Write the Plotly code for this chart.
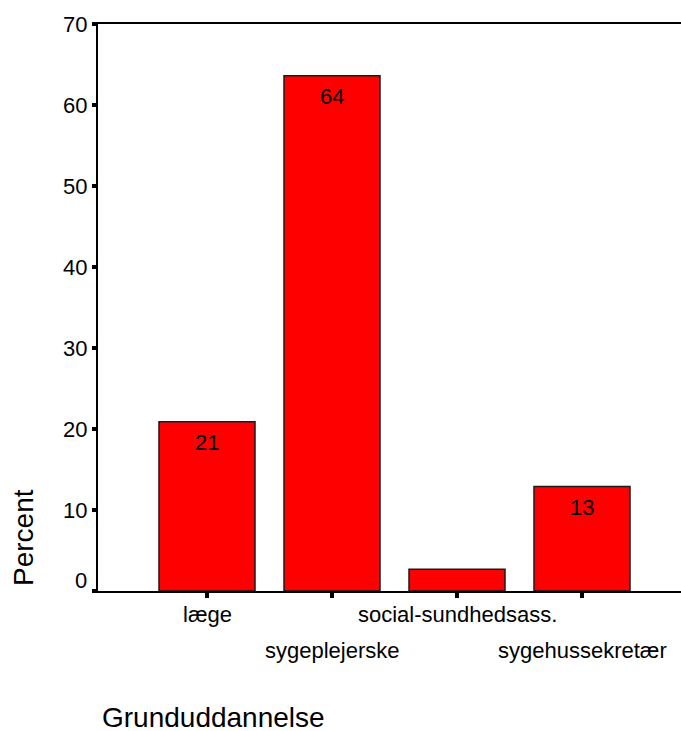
import plotly.graph_objects as go

categories = ["læge", "sygeplejerske", "social-sundhedsass.", "sygehussekretær"]
percent = [20.9, 63.6, 2.7, 12.9]
bar_labels = ["21", "64", "", "13"]
y_ticks = [0, 10, 20, 30, 40, 50, 60, 70]

FONT = "Arial, Liberation Sans, sans-serif"
xpos = list(range(len(categories)))

fig = go.Figure()
fig.add_trace(go.Bar(
    x=xpos, y=percent, width=0.768,
    marker=dict(color="#FF0000", line=dict(color="#1a1a1a", width=1.5)),
    hoverinfo="x+y",
))

ann = []
# bar value labels
for xi, v, t in zip(xpos, percent, bar_labels):
    if t:
        ann.append(dict(x=xi, y=v, xref="x", yref="y", text=t, showarrow=False,
                        yanchor="middle", yshift=-21,
                        font=dict(family=FONT, size=22, color="black")))
# category labels (staggered)
for i, (xi, c) in enumerate(zip(xpos, categories)):
    ann.append(dict(x=xi, y=0, xref="x", yref="paper", text=c, showarrow=False,
                    yanchor="middle", yshift=-23 if i % 2 == 0 else -59,
                    font=dict(family=FONT, size=22, color="black")))
# y tick labels
for v in y_ticks:
    ann.append(dict(x=0, y=v, xref="paper", yref="y", text=str(v), showarrow=False,
                    xanchor="right", yanchor="middle", xshift=-9,
                    yshift=11 if v == 0 else 0,
                    font=dict(family=FONT, size=22, color="black")))
# axis titles
ann.append(dict(x=(23 - 98) / 583, y=(591 - 538) / 567, xref="paper", yref="paper",
                text="Percent", showarrow=False, textangle=-90,
                xanchor="center", yanchor="middle",
                font=dict(family=FONT, size=28, color="black")))
ann.append(dict(x=(100 - 98) / 583, y=-(717 - 591) / 567, xref="paper", yref="paper",
                text="Grunduddannelse", showarrow=False, xanchor="left", yanchor="middle",
                font=dict(family=FONT, size=28, color="black")))

fig.update_layout(
    width=681, height=731,
    margin=dict(l=98, r=0, t=24, b=140),
    paper_bgcolor="white", plot_bgcolor="white",
    showlegend=False,
    annotations=ann,
    xaxis=dict(range=[-0.872, 3.792], tickvals=xpos, showticklabels=False,
               ticks="outside", ticklen=5, tickwidth=4, tickcolor="black",
               showline=True, linecolor="black", linewidth=2, mirror=True,
               showgrid=False, zeroline=False, fixedrange=True),
    yaxis=dict(range=[0, 70], tickvals=y_ticks, showticklabels=False,
               ticks="outside", ticklen=4, tickwidth=4, tickcolor="black",
               showline=True, linecolor="black", linewidth=2,
               showgrid=False, zeroline=False, fixedrange=True),
)

fig.write_html("out.html", config={"displayModeBar": False},
               post_script="document.body.style.margin='0';document.body.style.overflow='hidden';")
